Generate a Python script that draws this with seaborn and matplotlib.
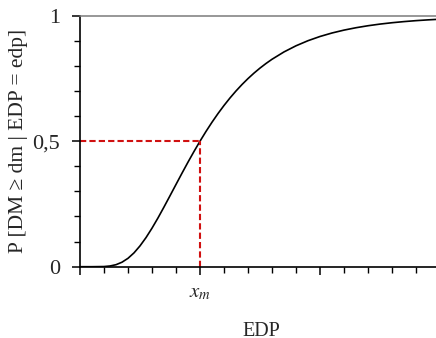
import numpy as np
import pandas as pd
import matplotlib
matplotlib.use("Agg")
import matplotlib.pyplot as plt
import seaborn as sns
from matplotlib.ticker import MultipleLocator

# Values (EDP in minor-tick units, x_m = 5)
edp = [0.0, 0.5, 1.0, 1.25, 1.5, 1.75, 2.0, 2.25, 2.5, 2.75, 3.0, 3.25, 3.5, 3.75,
       4.0, 4.25, 4.5, 4.75, 5.0, 5.25, 5.5, 5.75, 6.0, 6.25, 6.5, 6.75, 7.0, 7.25,
       7.5, 7.75, 8.0, 8.5, 9.0, 9.5, 10.0, 10.5, 11.0, 11.5, 12.0, 12.5, 13.0,
       13.5, 14.0, 14.5, 15.0]
prob = [0.0, 0.0, 0.0006, 0.0028, 0.008, 0.0179, 0.0334, 0.0551, 0.0829, 0.1159,
        0.1535, 0.1944, 0.2379, 0.2826, 0.3277, 0.3726, 0.4166, 0.4591, 0.5, 0.5389,
        0.5756, 0.6101, 0.6423, 0.6723, 0.7001, 0.7258, 0.7495, 0.7713, 0.7913,
        0.8096, 0.8264, 0.8557, 0.8801, 0.9004, 0.9172, 0.9311, 0.9426, 0.9521,
        0.96, 0.9666, 0.972, 0.9765, 0.9803, 0.9834, 0.986]
x_median = 5.0
p_median = 0.5
y_ticks = [0, 0.5, 1]
y_tick_labels = ["0", "0,5", "1"]
x_ticks = [0, 5, 10]
x_tick_labels = ["", "$x_m$", ""]
x_label = "EDP"
y_label = "P [DM \u2265 dm | EDP = edp]"

sns.set_style("ticks")
plt.rcParams["font.family"] = ["Liberation Serif", "DejaVu Serif"]
plt.rcParams["mathtext.fontset"] = "stix"

fig = plt.figure(figsize=(4.36, 3.38), dpi=100)
ax = fig.add_axes([80 / 436, 1 - 266.7 / 338, 356 / 436, (266.7 - 15.7) / 338])

df = pd.DataFrame({"EDP": edp, "P": prob})
sns.lineplot(data=df, x="EDP", y="P", ax=ax, color="black", linewidth=1.2)

red = "#d01010"
ax.plot([0, x_median], [p_median, p_median], color=red, lw=1.5, ls=(0, (3, 1.5)))
ax.plot([x_median, x_median], [0, p_median], color=red, lw=1.5, ls=(0, (3, 1.5)))

ax.set_xlim(0, 356 / 24)
ax.set_ylim(0, 1)

ax.set_yticks(y_ticks)
ax.set_yticklabels(y_tick_labels, fontsize=16)
ax.yaxis.set_minor_locator(MultipleLocator(0.1))
ax.set_xticks(x_ticks)
ax.set_xticklabels(x_tick_labels, fontsize=15)
ax.xaxis.set_minor_locator(MultipleLocator(1))

ax.tick_params(axis="both", which="major", direction="out", length=6, width=1.1, color="black")
ax.tick_params(axis="both", which="minor", direction="out", length=4, width=1.0, color="black")
ax.tick_params(axis="y", which="major", pad=8.5)
ax.tick_params(axis="x", which="major", pad=6)

ax.set_xlabel("")
ax.set_ylabel(y_label, fontsize=15.5)
ax.yaxis.set_label_coords((28 - 80) / 356, 0.5)
fig.text(261 / 436, 1.5 / 338, x_label, fontsize=14.5, ha="center", va="baseline")

for s in ["left", "bottom"]:
    ax.spines[s].set_color("black")
    ax.spines[s].set_linewidth(1.2)
ax.spines["right"].set_visible(False)
ax.spines["top"].set_visible(True)
ax.spines["top"].set_color("#7a7a7a")
ax.spines["top"].set_linewidth(1.1)

fig.savefig("out.png", dpi=100)
